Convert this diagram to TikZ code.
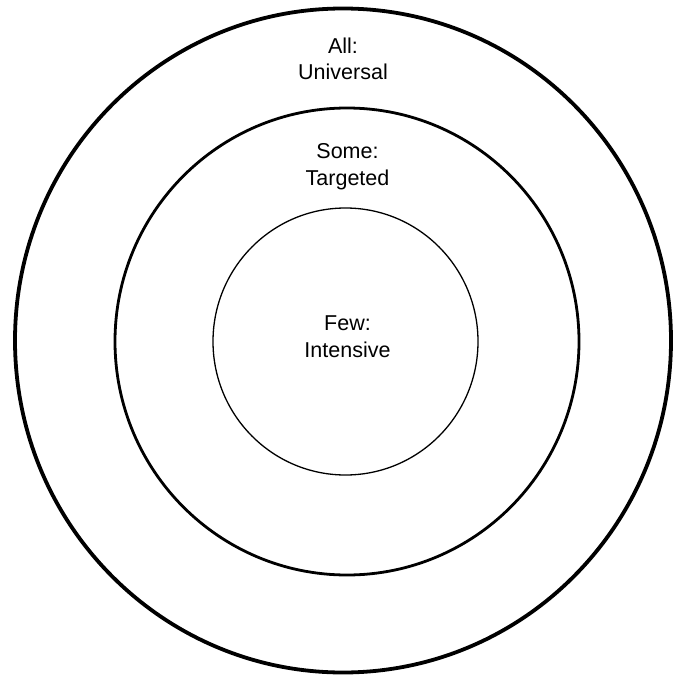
\documentclass[tikz,border=0pt]{standalone}
\usepackage{fontspec}
\setmainfont{Liberation Sans}
\begin{document}
\begin{tikzpicture}[x=1pt,y=-1pt,
  ring/.style={draw=black},
  lbl/.style={font=\fontsize{21.5}{26.5}\selectfont, align=center, inner sep=0pt, anchor=base}]
\useasboundingbox (0,0) rectangle (673,677);
\fill[white] (0,0) rectangle (673,677);
\draw[ring, line width=3.8pt] (343,340.5) ellipse [x radius=328, y radius=332];
\draw[ring, line width=2.8pt] (347,341.5) ellipse [x radius=232, y radius=233.5];
\draw[ring, line width=1.3pt] (345.5,341.5) ellipse [x radius=132.5, y radius=133.5];
\node[lbl] (all) at (343,80) {All:\\Universal};
\node[lbl] (some) at (347.5,185) {Some:\\Targeted};
\node[lbl] (few) at (347.5,357) {Few:\\Intensive};
\end{tikzpicture}
\end{document}
